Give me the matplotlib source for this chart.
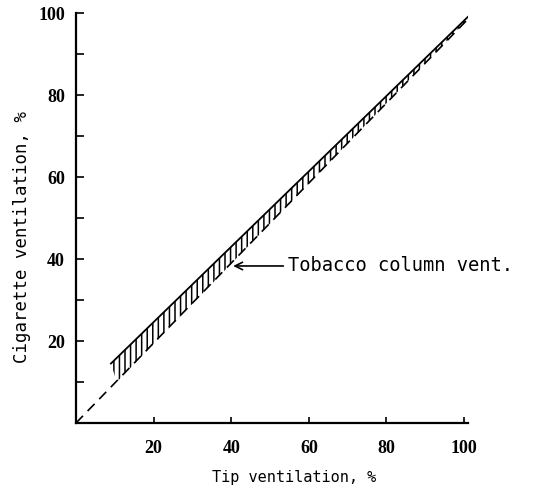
import matplotlib.pyplot as plt

# values
tip_solid = [9, 102]
cig_solid = [14.5, 100]
tip_dash = [0, 102]
cig_dash = [0, 99.5]
band_tip = [9, 102, 102, 10.5]
band_cig = [14.5, 100, 99.5, 10]
x_ticks = [20, 40, 60, 80, 100]
y_ticks = [20, 40, 60, 80, 100]
y_minor = [10, 30, 50, 70, 90]
note_xy = (40.5, 38.3)
note_text_xy = (54.5, 38.3)

plt.rcParams["hatch.linewidth"] = 1.1

fig = plt.figure(figsize=(5.33, 4.98), dpi=100)
ax = fig.add_axes([76 / 533, 75 / 498, 392 / 533, 410 / 498])

ax.fill(band_tip, band_cig, facecolor="none", edgecolor="black",
        hatch="|||", linewidth=0)
ax.plot(tip_solid, cig_solid, color="black", lw=1.3)
ax.plot(tip_dash, cig_dash, color="black", lw=1.2, dashes=(6, 4))

ax.annotate("Tobacco column vent.", xy=note_xy, xytext=note_text_xy,
            ha="left", va="center", family="DejaVu Sans Mono", fontsize=13.5,
            arrowprops=dict(arrowstyle="->", color="black", lw=1.2,
                            shrinkA=1, shrinkB=0))

ax.set_xlim(0, 101)
ax.set_ylim(0, 100)
ax.spines["top"].set_visible(False)
ax.spines["right"].set_visible(False)
ax.spines["left"].set_linewidth(1.6)
ax.spines["bottom"].set_linewidth(1.6)

ax.set_xticks(x_ticks)
ax.set_yticks(y_ticks)
ax.set_yticks(y_minor, minor=True)
ax.tick_params(axis="both", which="both", direction="in", width=1.2)
ax.tick_params(axis="y", which="both", length=6, pad=8)
ax.tick_params(axis="x", length=4, pad=12)
for lab in ax.get_xticklabels() + ax.get_yticklabels():
    lab.set_family("Liberation Serif")
    lab.set_fontsize(13)
    lab.set_weight("bold")

ax.set_xlabel("Tip ventilation, %", family="DejaVu Sans Mono", fontsize=11)
ax.set_ylabel("Cigarette ventilation, %", family="DejaVu Sans Mono",
              fontsize=12.5)
ax.xaxis.set_label_coords(0.556, -0.115)
ax.yaxis.set_label_coords(-0.115, 0.454)

fig.savefig("out.png", dpi=100)
plt.close("all")
